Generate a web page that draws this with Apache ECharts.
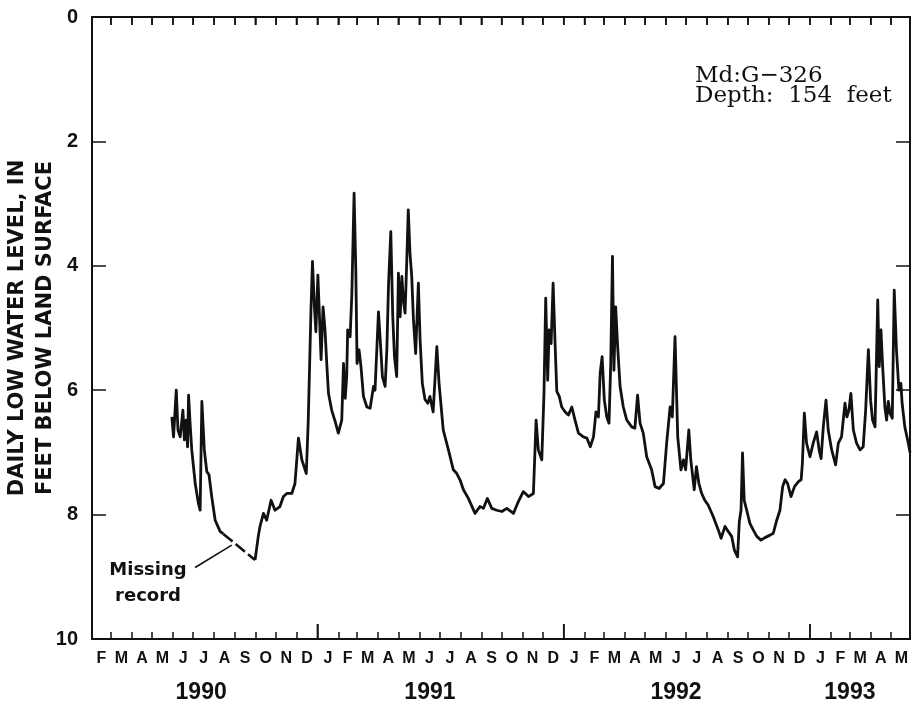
<!DOCTYPE html>
<html><head><meta charset="utf-8">
<script src="https://cdn.jsdelivr.net/npm/echarts@6/dist/echarts.min.js"></script>
<style>html,body{margin:0;padding:0;background:#fff}#c{width:913px;height:706px}</style>
</head><body><div id="c"></div>
<script>
// ---- data (x in decimal years, y in feet below land surface) ----
const monthLetters = ['J','F','M','A','M','J','J','A','S','O','N','D'];
const yearLabels = ['1990','1991','1992','1993'];
const yearLabelPos = [1990.528, 1991.457, 1992.456, 1993.162];
const yTickMin = 0, yTickMax = 10, yTickStep = 2;

const decimalYear = [
1990.409,1990.416,1990.427,1990.434,1990.443,1990.454,1990.460,1990.467,1990.473,1990.477,
1990.484,1990.490,1990.504,1990.517,1990.524,1990.531,1990.541,1990.551,1990.560,1990.571,
1990.585,1990.605,1990.618,null,1990.747,1990.760,1990.767,1990.781,1990.794,1990.812,
1990.828,1990.848,1990.862,1990.876,1990.896,1990.909,1990.923,1990.937,1990.955,1990.963,
1990.970,1990.974,1990.980,1990.988,1990.994,1991.002,1991.008,1991.015,1991.023,1991.031,
1991.038,1991.045,1991.058,1991.072,1991.085,1991.099,1991.106,1991.113,1991.119,1991.123,
1991.133,1991.140,1991.149,1991.156,1991.161,1991.169,1991.177,1991.187,1991.201,1991.214,
1991.228,1991.234,1991.248,1991.256,1991.264,1991.275,1991.282,1991.289,1991.298,1991.306,
1991.313,1991.322,1991.329,1991.336,1991.343,1991.349,1991.356,1991.363,1991.369,1991.376,
1991.383,1991.390,1991.399,1991.410,1991.417,1991.426,1991.437,1991.448,1991.457,1991.470,
1991.485,1991.494,1991.511,1991.532,1991.552,1991.566,1991.579,1991.593,1991.613,1991.640,
1991.660,1991.674,1991.690,1991.708,1991.728,1991.749,1991.769,1991.796,1991.816,1991.836,
1991.857,1991.877,1991.888,1991.897,1991.911,1991.920,1991.927,1991.935,1991.941,1991.949,
1991.957,1991.965,1991.972,1991.982,1991.992,1992.006,1992.019,1992.033,1992.046,1992.060,
1992.080,1992.094,1992.108,1992.121,1992.131,1992.141,1992.148,1992.156,1992.165,1992.175,
1992.184,1992.191,1992.198,1992.204,1992.211,1992.219,1992.229,1992.242,1992.256,1992.276,
1992.289,1992.300,1992.310,1992.323,1992.337,1992.357,1992.371,1992.387,1992.405,1992.418,
1992.432,1992.441,1992.452,1992.463,1992.476,1992.486,1992.495,1992.508,1992.516,1992.530,
1992.539,1992.549,1992.560,1992.573,1992.587,1992.607,1992.628,1992.639,1992.655,1992.668,
1992.682,1992.693,1992.706,1992.713,1992.720,1992.726,1992.733,1992.743,1992.756,1992.770,
1992.784,1992.801,1992.817,1992.838,1992.851,1992.865,1992.878,1992.889,1992.899,1992.909,
1992.923,1992.937,1992.953,1992.964,1992.969,1992.977,1992.986,1993.000,1993.013,1993.027,
1993.037,1993.045,1993.054,1993.065,1993.074,1993.088,1993.104,1993.115,1993.128,1993.142,
1993.150,1993.158,1993.166,1993.176,1993.189,1993.203,1993.216,1993.226,1993.237,1993.246,
1993.254,1993.264,1993.275,1993.281,1993.288,1993.295,1993.304,1993.311,1993.318,1993.325,
1993.334,1993.342,1993.351,1993.361,1993.369,1993.374,1993.385,1993.399,1993.406
];
const waterLevel = [
6.43,6.75,6.00,6.64,6.75,6.32,6.80,6.48,6.91,6.08,
6.59,6.96,7.50,7.82,7.93,6.18,6.96,7.31,7.36,7.71,
8.09,8.27,8.31,null,8.73,8.35,8.19,7.98,8.09,7.77,
7.93,7.87,7.71,7.66,7.66,7.50,6.77,7.12,7.34,6.48,
5.35,4.71,3.93,4.66,5.06,4.15,4.76,5.51,4.66,5.03,
5.57,6.05,6.32,6.50,6.69,6.48,5.57,6.13,5.78,5.03,
5.14,4.44,2.83,4.07,5.57,5.35,5.62,6.10,6.27,6.29,
5.94,6.00,4.74,5.25,5.78,5.94,5.35,4.28,3.45,4.82,
5.46,5.78,4.12,4.82,4.17,4.55,4.76,3.91,3.10,3.80,
4.17,4.87,5.41,4.28,5.19,5.89,6.15,6.21,6.10,6.35,
5.30,5.89,6.64,6.96,7.28,7.34,7.44,7.60,7.74,7.98,
7.87,7.90,7.74,7.90,7.93,7.95,7.90,7.98,7.79,7.63,
7.71,7.66,6.48,6.96,7.12,6.05,4.52,5.84,5.03,5.25,
4.28,5.25,6.02,6.10,6.27,6.35,6.40,6.27,6.48,6.69,
6.75,6.77,6.91,6.75,6.35,6.43,5.73,5.46,6.16,6.43,
6.53,5.57,3.85,5.68,4.66,5.30,5.94,6.27,6.48,6.59,
6.61,6.08,6.53,6.69,7.07,7.28,7.55,7.58,7.50,6.85,
6.27,6.43,5.14,6.75,7.28,7.12,7.28,6.64,7.12,7.60,
7.23,7.50,7.66,7.77,7.85,8.03,8.25,8.38,8.19,8.27,
8.35,8.57,8.68,8.11,7.93,7.01,7.77,7.93,8.14,8.25,
8.35,8.41,8.37,8.33,8.30,8.09,7.93,7.55,7.44,7.50,
7.71,7.55,7.47,7.44,7.18,6.37,6.85,7.07,6.85,6.67,
6.96,7.10,6.59,6.16,6.64,6.96,7.20,6.85,6.75,6.21,
6.43,6.32,6.05,6.64,6.85,6.96,6.91,6.32,5.35,6.16,
6.48,6.59,4.55,5.62,5.03,5.62,6.27,6.48,6.18,6.37,
6.45,4.39,5.35,6.00,5.89,6.21,6.59,6.85,7.00
];
// missing-record segment (dashed), joining the last reading before and first after the gap
const missingYear = [1990.618, 1990.747];
const missingLevel = [8.31, 8.73];
// leader line of the "Missing record" note, in data units
const noteLeaderYear = [1990.5035, 1990.6525];
const noteLeaderLevel = [8.85, 8.49];

// ---- helpers ----
function decYear(y, m, d) {
  const s = Date.UTC(y, 0, 1), e = Date.UTC(y + 1, 0, 1);
  return y + (Date.UTC(y, m, d) - s) / (e - s);
}
const xMin = decYear(1990, 1, 1);   // 1 Feb 1990
const xMax = 1993.406;
const monthStarts = [], monthMids = [], monthMidLetters = [];
for (let y = 1990; y <= 1993; y++) {
  for (let m = 0; m < 12; m++) {
    const a = decYear(y, m, 1), b = decYear(y, m + 1, 1);
    if (b <= xMin + 1e-9 || a >= xMax) continue;
    if (a > xMin + 1e-6) monthStarts.push(a);
    monthMids.push((a + b) / 2);
    monthMidLetters.push(monthLetters[m]);
  }
}
const yearStarts = [1991, 1992, 1993];
function nearestLabel(v, pos, labels) {
  let bi = 0, bd = Infinity;
  pos.forEach((p, i) => { const d = Math.abs(p - v); if (d < bd) { bd = d; bi = i; } });
  return labels[bi];
}

const series1 = decimalYear.map((x, i) => [x, waterLevel[i]]);
const seriesMissing = missingYear.map((x, i) => [x, missingLevel[i]]);

const black = '#111';
const sansL = 'Liberation Sans';
const sansD = 'DejaVu Sans';
const chart = echarts.init(document.getElementById('c'), null, { renderer: 'canvas' });

const gridBox = { left: 92, right: 3, top: 17, bottom: 67, containLabel: false };
const baseX = {
  type: 'value', min: xMin, max: xMax, splitLine: { show: false },
  axisLine: { show: false, onZero: false }, axisTick: { show: false }, axisLabel: { show: false }
};

// tick-mark renderer driven by the axis scales (value -> pixel through api.coord)
function tickRenderer(len) {
  return function (params, api) {
    const p = api.coord([api.value(0), api.value(1)]);
    return { type: 'line', silent: true, z2: 100,
      shape: { x1: p[0], y1: p[1], x2: p[0], y2: p[1] + len },
      style: { stroke: black, lineWidth: 1.5 } };
  };
}

chart.setOption({
  animation: false,
  backgroundColor: '#fff',
  grid: [
    Object.assign({}, gridBox),
    Object.assign({}, gridBox),
    // strip whose bottom edge sits 8px under the top frame: its inside ticks reach up to the frame
    { left: 92, right: 3, top: 0, height: 25, containLabel: false }
  ],
  xAxis: [
    Object.assign({}, baseX, {
      gridIndex: 0, position: 'bottom',
      axisLine: { show: true, onZero: false, lineStyle: { color: black, width: 2 } },
      axisTick: { show: true, inside: true, length: 7, customValues: monthStarts.slice(), lineStyle: { color: black, width: 1.5 } },
      axisLabel: {
        show: true, customValues: monthMids.slice(), margin: 12,
        fontFamily: sansL, fontWeight: 'bold', fontSize: 16, color: black,
        formatter: v => nearestLabel(v, monthMids, monthMidLetters)
      }
    }),
    Object.assign({}, baseX, {
      gridIndex: 1, position: 'bottom',
      axisLine: { show: false, onZero: false },
      axisTick: { show: true, inside: true, length: 15, customValues: yearStarts.slice(), lineStyle: { color: black, width: 1.5 } },
      axisLabel: {
        show: true, customValues: yearLabelPos.slice(), margin: 42,
        fontFamily: sansL, fontWeight: 'bold', fontSize: 23, color: black,
        formatter: v => nearestLabel(v, yearLabelPos, yearLabels)
      }
    }),
    Object.assign({}, baseX, {
      gridIndex: 2, position: 'bottom',
      axisLine: { show: false, onZero: false },
      axisTick: { show: true, inside: true, length: 8, customValues: monthStarts.slice(), lineStyle: { color: black, width: 1.5 } },
      axisLabel: {
        show: true, customValues: monthMids.slice(), margin: 4,
        fontFamily: sansL, fontSize: 8, color: 'rgba(255,255,255,0)',
        formatter: v => nearestLabel(v, monthMids, monthMidLetters)
      }
    }),
    Object.assign({}, baseX, {
      gridIndex: 0, position: 'top',
      axisLine: { show: true, onZero: false, lineStyle: { color: black, width: 2 } }
    })
  ],
  yAxis: [
    {
      gridIndex: 0, type: 'value', inverse: true, min: yTickMin, max: yTickMax, interval: yTickStep, position: 'left',
      splitLine: { show: false },
      axisLine: { show: true, onZero: false, lineStyle: { color: black, width: 2 } },
      axisTick: { show: true, inside: true, length: 14, lineStyle: { color: black, width: 1.5 } },
      axisLabel: { show: true, margin: 14, fontFamily: sansL, fontWeight: 'bold', fontSize: 20, color: black }
    },
    {
      gridIndex: 0, type: 'value', inverse: true, min: yTickMin, max: yTickMax, interval: yTickStep, position: 'right',
      splitLine: { show: false },
      axisLine: { show: true, onZero: false, lineStyle: { color: black, width: 2 } },
      axisTick: { show: true, inside: true, length: 14, lineStyle: { color: black, width: 1.5 } },
      axisLabel: { show: false }
    },
    { gridIndex: 1, type: 'value', inverse: true, min: yTickMin, max: yTickMax, show: false, axisLine: { onZero: false } },
    { gridIndex: 2, type: 'value', min: 0, max: 1, show: false, axisLine: { onZero: false } }
  ],
  series: [
    {
      type: 'line', xAxisIndex: 0, yAxisIndex: 0, data: series1, showSymbol: false,
      connectNulls: false, lineStyle: { color: black, width: 2.8, join: 'round' }
    },
    {
      type: 'line', xAxisIndex: 0, yAxisIndex: 0, data: seriesMissing, showSymbol: false,
      lineStyle: { color: black, width: 2.6, type: [12, 4] },
      markLine: {
        silent: true, symbol: 'none', label: { show: false },
        lineStyle: { color: black, width: 1.6, type: 'solid' },
        data: [[
          { coord: [noteLeaderYear[0], noteLeaderLevel[0]] },
          { coord: [noteLeaderYear[1], noteLeaderLevel[1]] }
        ]]
      }
    },
    // month ticks hanging from the top frame
    { type: 'custom', xAxisIndex: 0, yAxisIndex: 0, silent: true, clip: false, z: 10,
      encode: { x: 0, y: 1 },
      data: monthStarts.map(v => [v, yTickMin]), renderItem: tickRenderer(8) },
    // longer year ticks rising from the bottom frame
    { type: 'custom', xAxisIndex: 0, yAxisIndex: 0, silent: true, clip: false, z: 10,
      encode: { x: 0, y: 1 },
      data: yearStarts.map(v => [v, yTickMax]), renderItem: tickRenderer(-15) }
  ],
  graphic: [
    { type: 'text', x: 18, y: 328, rotation: Math.PI / 2,
      style: { text: 'DAILY LOW WATER LEVEL, IN', fontFamily: sansD, fontWeight: 'bold', fontSize: 21,
               fill: black, textAlign: 'center', textVerticalAlign: 'middle' } },
    { type: 'text', x: 46, y: 328, rotation: Math.PI / 2,
      style: { text: 'FEET BELOW LAND SURFACE', fontFamily: sansD, fontWeight: 'bold', fontSize: 21,
               fill: black, textAlign: 'center', textVerticalAlign: 'middle' } },
    { type: 'text', x: 148, y: 583,
      style: { text: 'Missing\nrecord', fontFamily: sansD, fontWeight: 'bold', fontSize: 18, lineHeight: 26,
               fill: black, textAlign: 'center', textVerticalAlign: 'middle' } },
    { type: 'text', x: 695, y: 86,
      style: { text: 'Md:G\u2212326\nDepth:  154  feet', fontFamily: 'DejaVu Serif', fontSize: 23, lineHeight: 20.5,
               fill: black, textAlign: 'left', textVerticalAlign: 'middle' } }
  ]
});
</script>
</body></html>
